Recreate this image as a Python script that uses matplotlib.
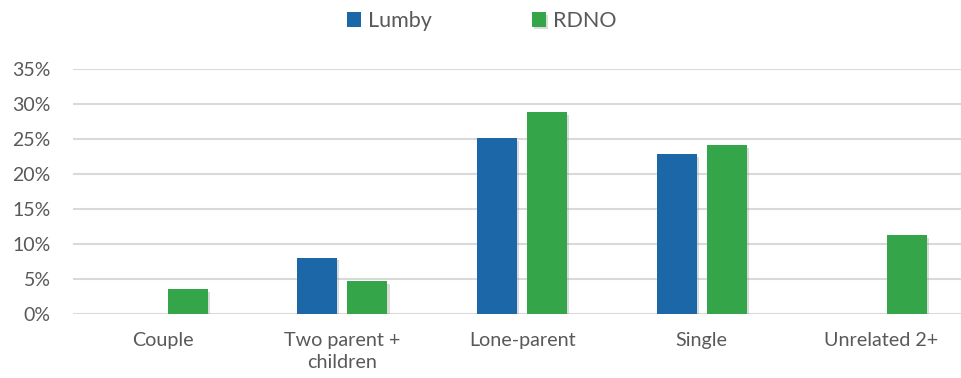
import numpy as np
import matplotlib
matplotlib.use("Agg")
from matplotlib import pyplot as plt
import matplotlib.patheffects as pe

plt.rcParams['font.family'] = ['Lato', 'DejaVu Sans']

categories = ["Couple", "Two parent +\nchildren", "Lone-parent", "Single", "Unrelated 2+"]
lumby = [0.0, 8.1, 25.2, 22.9, 0.0]
rdno = [3.6, 4.7, 28.9, 24.2, 11.3]
yticks = [0, 5, 10, 15, 20, 25, 30, 35]

blue = "#1C67A8"
green = "#34A549"
textc = "#595959"

fig = plt.figure(figsize=(9.61, 3.78), dpi=100)
# plot area runs past the right edge of the picture, like the original crop
ax = fig.add_axes([72.7 / 961, 63.7 / 378, 898.75 / 961, 245.0 / 378])

x = np.arange(len(categories))
w = 0.2225
off = 0.1397
shadow = [pe.SimplePatchShadow(offset=(1.5, -2), shadow_rgbFace="#999999", alpha=0.35), pe.Normal()]

b1 = ax.bar(x - off, lumby, w, color=blue, label="Lumby", zorder=3)
b2 = ax.bar(x + off, rdno, w, color=green, label="RDNO", zorder=3)
for bars in (b1, b2):
    for p in bars:
        if p.get_height() > 0:
            p.set_path_effects(shadow)

ax.set_xlim(-0.5, len(categories) - 0.5)
ax.set_ylim(0, 35)
ax.set_yticks(yticks)
ax.set_yticklabels([f"{v}%" for v in yticks])
ax.set_xticks(x)
ax.set_xticklabels(categories, linespacing=1.3)
ax.yaxis.grid(True, color="#D9D9D9", linewidth=1.5, zorder=0)
ax.set_axisbelow(True)
for s in ax.spines.values():
    s.set_visible(False)
ax.tick_params(axis="y", length=0, pad=16, labelsize=14, labelcolor=textc)
ax.tick_params(axis="x", length=0, pad=13, labelsize=14.2, labelcolor=textc)

fig.legend(handles=[b1, b2], loc="center", bbox_to_anchor=(482 / 961, 1 - 21 / 378), ncol=2,
           frameon=False, fontsize=15.5, labelcolor=textc, handlelength=0.65, handleheight=0.65,
           handletextpad=0.33, columnspacing=4.65, borderpad=0)

fig.savefig("out.png", dpi=100)
